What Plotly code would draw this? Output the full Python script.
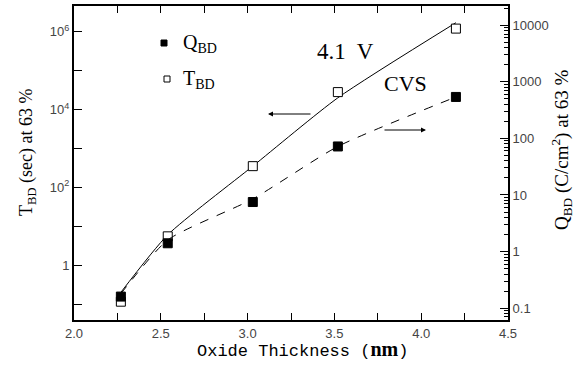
import plotly.graph_objects as go

# ---- data ----
thickness = [2.27, 2.54, 3.03, 3.52, 4.20]          # nm
tbd = [0.115, 5.5, 350, 28000, 1.2e6]                # sec (left axis)
qbd = [0.16, 1.4, 7.5, 72, 540]                      # C/cm^2 (right axis)
tbd_fit = [0.2, 6.0, 350, 20000, 1.7e6]              # solid guide curve
qbd_fit = [0.18, 1.6, 8.5, 72, 540]                  # dashed guide curve

x_major = [2.0, 2.5, 3.0, 3.5, 4.0, 4.5]
x_text = ["2.0", "2.5", "3.0", "3.5", "4.0", "4.5"]
x_minor = [2.25, 2.75, 3.25, 3.75, 4.25]
yl_major = [1, 100, 1e4, 1e6]
yl_text = ["1", "10<sup>2</sup>", "10<sup>4</sup>", "10<sup>6</sup>"]
yl_minor = [0.1, 10, 1e3, 1e5]
yr_ticks = [0.1, 1, 10, 100, 1000, 10000]
yr_text = ["0.1", "1", "10", "100", "1000", "10000"]

W, H = 577, 365
L, R, T, B = 74, 69, 6, 45
PW, PH = W - L - R, H - T - B

def px(xp):
    return (xp - L) / PW

def py(yp):
    return (H - B - yp) / PH

SERIF = "Liberation Serif"
SANS = "Liberation Sans"

fig = go.Figure()
fig.add_trace(go.Scatter(x=thickness, y=tbd_fit, mode="lines",
                         line=dict(color="black", width=1, shape="spline", smoothing=0.6),
                         yaxis="y", showlegend=False, hoverinfo="skip"))
fig.add_trace(go.Scatter(x=thickness, y=qbd_fit, mode="lines",
                         line=dict(color="black", width=1, dash="dash", shape="spline", smoothing=0.6),
                         yaxis="y2", showlegend=False, hoverinfo="skip"))
fig.add_trace(go.Scatter(x=thickness, y=tbd, mode="markers", name="T_BD",
                         marker=dict(symbol="square", size=9, color="white",
                                     line=dict(color="black", width=1)),
                         yaxis="y", showlegend=False))
fig.add_trace(go.Scatter(x=thickness, y=qbd, mode="markers", name="Q_BD",
                         marker=dict(symbol="square", size=9, color="black",
                                     line=dict(color="black", width=1)),
                         yaxis="y2", showlegend=False))

tickfont = dict(family=SANS, size=13, color="#444")

fig.update_layout(
    width=W, height=H,
    margin=dict(l=L, r=R, t=T, b=B),
    paper_bgcolor="white", plot_bgcolor="white",
    xaxis=dict(range=[2.0, 4.5], tickmode="array", tickvals=x_major, ticktext=x_text,
               ticks="inside", ticklen=7, tickcolor="black", tickwidth=1,
               minor=dict(tickvals=x_minor, ticks="inside", ticklen=7, tickcolor="black"),
               showline=True, linecolor="black", linewidth=2, mirror="allticks",
               showgrid=False, zeroline=False, tickfont=tickfont, automargin=False),
    yaxis=dict(type="log", range=[-1.41, 6.66], tickmode="array",
               tickvals=yl_major, ticktext=yl_text,
               ticks="inside", ticklen=8, tickcolor="black", tickwidth=1,
               minor=dict(tickvals=yl_minor, ticks="inside", ticklen=8, tickcolor="black"),
               showline=True, linecolor="black", linewidth=2,
               showgrid=False, zeroline=False, tickfont=tickfont, automargin=False),
    yaxis2=dict(type="log", range=[-1.21, 4.34], overlaying="y", side="right",
                tickmode="array", tickvals=yr_ticks, ticktext=yr_text,
                ticks="inside", ticklen=8, tickcolor="black", tickwidth=1,
                minor=dict(ticks="inside", ticklen=4, dtick="D1", tickcolor="black"),
                showline=True, linecolor="black", linewidth=2,
                showgrid=False, zeroline=False, tickfont=tickfont, automargin=False),
)

# legend (drawn manually)
s = 3
fig.add_shape(type="rect", xref="paper", yref="paper",
              x0=px(164 - s), x1=px(164 + s), y0=py(43 + s), y1=py(43 - s),
              fillcolor="black", line=dict(color="black", width=1))
fig.add_shape(type="rect", xref="paper", yref="paper",
              x0=px(167 - s), x1=px(167 + s), y0=py(79 + s), y1=py(79 - s),
              fillcolor="white", line=dict(color="black", width=1))

ann = []
ann.append(dict(x=px(181), y=py(44), xref="paper", yref="paper", xanchor="left", yanchor="middle",
                text="Q<sub>BD</sub>", showarrow=False, font=dict(family=SERIF, size=20, color="black")))
ann.append(dict(x=px(181), y=py(80), xref="paper", yref="paper", xanchor="left", yanchor="middle",
                text="T<sub>BD</sub>", showarrow=False, font=dict(family=SERIF, size=20, color="black")))
ann.append(dict(x=px(345), y=py(52), xref="paper", yref="paper", xanchor="center", yanchor="middle",
                text="4.1  V", showarrow=False, font=dict(family=SERIF, size=23, color="black")))
ann.append(dict(x=px(405), y=py(84), xref="paper", yref="paper", xanchor="center", yanchor="middle",
                text="CVS", showarrow=False, font=dict(family=SERIF, size=22, color="black")))
# arrows
ann.append(dict(x=px(268), y=py(114), xref="paper", yref="paper", text="", showarrow=True,
                ax=44, ay=0, arrowhead=2, arrowsize=1, arrowwidth=1, arrowcolor="black"))
ann.append(dict(x=px(426), y=py(130), xref="paper", yref="paper", text="", showarrow=True,
                ax=-43, ay=0, arrowhead=2, arrowsize=1, arrowwidth=1, arrowcolor="black"))
# axis titles
ann.append(dict(x=px(27), y=py(153), xref="paper", yref="paper", xanchor="center", yanchor="middle",
                text="T<sub>BD</sub> (sec) at 63 %", textangle=-90, showarrow=False,
                font=dict(family=SERIF, size=18, color="black")))
ann.append(dict(x=px(561), y=py(150), xref="paper", yref="paper", xanchor="center", yanchor="middle",
                text="Q<sub>BD</sub> (C/cm<sup>2</sup>) at 63 %", textangle=-90, showarrow=False,
                font=dict(family=SERIF, size=19, color="black")))
ann.append(dict(x=px(302), y=py(349), xref="paper", yref="paper", xanchor="center", yanchor="middle",
                text="Oxide Thickness (<span style='font-family:Liberation Serif;font-size:20px'><b>nm</b></span>)",
                showarrow=False, font=dict(family="Liberation Mono", size=17, color="black")))
fig.update_layout(annotations=ann)

fig.write_html("out.html", config={"displayModeBar": False},
               post_script="document.body.style.margin='0';document.body.style.padding='0';")
